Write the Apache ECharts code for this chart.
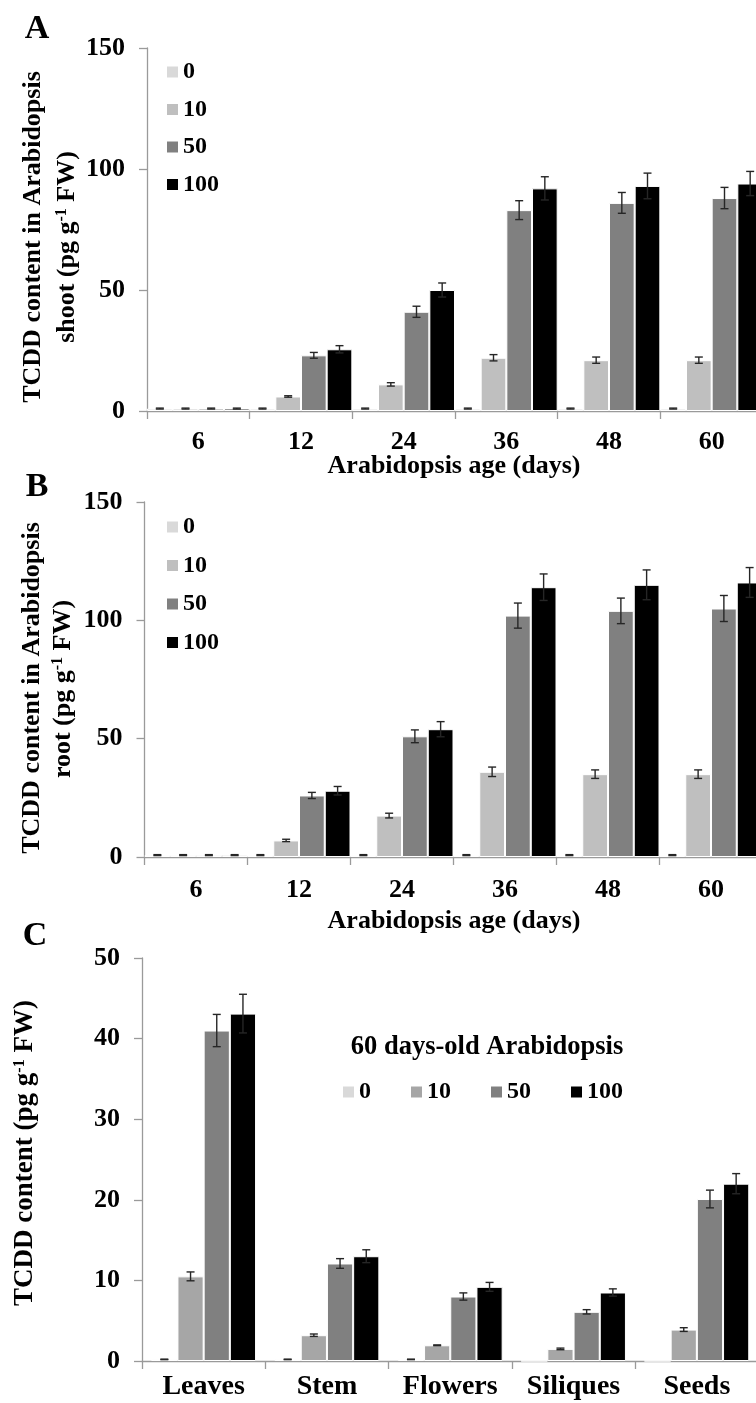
<!DOCTYPE html>
<html><head><meta charset="utf-8">
<script src="https://cdn.jsdelivr.net/npm/echarts@6/dist/echarts.min.js"></script>
<style>html,body{margin:0;padding:0;background:#fff}#c{width:756px;height:1403px}</style>
</head><body><div id="c"></div>
<script>
// ---------- data ----------
const ages = ['6', '12', '24', '36', '48', '60'];
const organs = ['Leaves', 'Stem', 'Flowers', 'Siliques', 'Seeds'];
const doses = ['0', '10', '50', '100'];

// Panel A: shoot (pg g-1 FW)
const shoot0   = [1, 1, 1, 1, 1, 1];
const shoot10  = [1, 6, 11, 22, 21, 21];
const shoot50  = [1, 23, 41, 83, 86, 88];
const shoot100 = [1, 25.5, 50, 92, 93, 94];
const shootErr0   = [0.2, 0.2, 0.2, 0.2, 0.2, 0.2];
const shootErr10  = [0.2, 0.3, 0.7, 1.3, 1.3, 1.3];
const shootErr50  = [0.2, 1.2, 2.3, 3.9, 4.3, 4.4];
const shootErr100 = [0.2, 1.5, 2.9, 4.8, 5.3, 5.0];

// Panel B: root (pg g-1 FW)
const root0   = [0.8, 0.8, 0.8, 0.8, 0.8, 0.8];
const root10  = [0.8, 7, 17.5, 36, 35, 35];
const root50  = [0.8, 26, 51, 102, 104, 105];
const root100 = [0.8, 28, 54, 114, 115, 116];
const rootErr0   = [0.2, 0.2, 0.2, 0.2, 0.2, 0.2];
const rootErr10  = [0.2, 0.5, 1.0, 2.0, 1.8, 1.8];
const rootErr50  = [0.2, 1.3, 2.7, 5.3, 5.4, 5.5];
const rootErr100 = [0.2, 1.8, 3.2, 5.6, 6.3, 6.3];

// Panel C: organs of 60 days-old plants
const organ0   = [0.2, 0.2, 0.2, 0, 0];
const organ10  = [10.5, 3.2, 1.95, 1.5, 3.9];
const organ50  = [41, 12.1, 8.0, 6.1, 20.1];
const organ100 = [43.1, 13.0, 9.2, 8.5, 22.0];
const organErr0   = [0.03, 0.03, 0.03, 0, 0];
const organErr10  = [0.55, 0.15, 0.05, 0.1, 0.23];
const organErr50  = [2.0, 0.6, 0.45, 0.27, 1.1];
const organErr100 = [2.4, 0.8, 0.55, 0.45, 1.25];

const yTicksAB = [0, 50, 100, 150];
const yTicksC = [0, 10, 20, 30, 40, 50];

// ---------- styling ----------
const FONT = '"Liberation Serif", "Times New Roman", serif';
const colorsAB = ['#d9d9d9', '#bfbfbf', '#808080', '#000000'];
const colorsC  = ['#d9d9d9', '#a6a6a6', '#808080', '#000000'];
const axisGray = '#9a9a9a';

const chart = echarts.init(document.getElementById('c'), null, {renderer: 'canvas'});

function makeGroup(gi, vals, errs, cols, gapFrac) {
  const out = [];
  vals.forEach((arr, k) => {
    out.push({
      type: 'bar', name: doses[k], xAxisIndex: gi, yAxisIndex: gi,
      data: arr, barGap: '0%', barCategoryGap: (gapFrac * 100) + '%',
      itemStyle: {color: cols[k], borderColor: '#ffffff', borderWidth: 1},
      emphasis: {disabled: true}, z: 2
    });
  });
  vals.forEach((arr, k) => {
    out.push({
      type: 'custom', name: 'err' + gi + '_' + k, xAxisIndex: gi, yAxisIndex: gi, z: 5,
      data: arr.map((v, i) => [i, v, errs[k][i]]),
      renderItem: function (params, api) {
        const c = api.value(0), v = api.value(1), e = api.value(2);
        if (!(v > 0) || !(e > 0)) return null;
        const band = api.size([1, 0])[0];
        const inner = band * (1 - gapFrac);
        const bw = inner / 4;
        const cx = api.coord([c, v])[0] - inner / 2 + (k + 0.5) * bw;
        const yt = api.coord([c, v + e])[1];
        const yb = api.coord([c, Math.max(0, v - e)])[1];
        const hw = 4;
        const st = {stroke: '#262626', lineWidth: 1.4};
        return {type: 'group', children: [
          {type: 'line', shape: {x1: cx, y1: yt, x2: cx, y2: yb}, style: st},
          {type: 'line', shape: {x1: cx - hw, y1: yt, x2: cx + hw, y2: yt}, style: st},
          {type: 'line', shape: {x1: cx - hw, y1: yb, x2: cx + hw, y2: yb}, style: st}
        ]};
      }
    });
  });
  return out;
}

function xAxisCfg(gi, cats, fs, margin) {
  return {
    type: 'category', gridIndex: gi, data: cats,
    axisLine: {lineStyle: {color: axisGray, width: 1.3}},
    axisTick: {show: true, length: 8, lineStyle: {color: axisGray, width: 1.3}},
    axisLabel: {fontFamily: FONT, fontWeight: 'bold', fontSize: fs, color: '#000', margin: margin, interval: 0},
    splitLine: {show: false}
  };
}
function yAxisCfg(gi, ticks) {
  return {
    type: 'value', gridIndex: gi, min: ticks[0], max: ticks[ticks.length - 1],
    interval: ticks[1] - ticks[0],
    axisLine: {show: true, lineStyle: {color: axisGray, width: 1.3}},
    axisTick: {show: true, length: 8, lineStyle: {color: axisGray, width: 1.3}},
    axisLabel: {fontFamily: FONT, fontWeight: 'bold', fontSize: 26, color: '#000', margin: 22},
    splitLine: {show: false}
  };
}
function legendCfg(cols, pos) {
  return Object.assign({
    padding: 0, itemWidth: 11, itemHeight: 11, icon: 'rect', selectedMode: false,
    textStyle: {fontFamily: FONT, fontWeight: 'bold', fontSize: 24, lineHeight: 24, color: '#000'},
    data: doses.map((d, i) => ({name: d, itemStyle: {color: cols[i], borderWidth: 0}}))
  }, pos);
}
function txt(text, x, y, fs, rot, rich) {
  const o = {type: 'text', x: x, y: y, rotation: rot || 0, z: 10,
    style: {text: text, fontFamily: FONT, fontWeight: 'bold', fontSize: fs, fill: '#000',
            align: 'center', verticalAlign: 'middle'}};
  if (rich) o.style.rich = rich;
  return o;
}
const supRich = (fs) => ({
  a: {fontFamily: FONT, fontWeight: 'bold', fontSize: fs, lineHeight: fs, fill: '#000'},
  s: {fontFamily: FONT, fontWeight: 'bold', fontSize: Math.round(fs * 0.6), fill: '#000', verticalAlign: 'top'}
});

const series = [].concat(
  makeGroup(0, [shoot0, shoot10, shoot50, shoot100], [shootErr0, shootErr10, shootErr50, shootErr100], colorsAB, 0),
  makeGroup(1, [root0, root10, root50, root100], [rootErr0, rootErr10, rootErr50, rootErr100], colorsAB, 0),
  makeGroup(2, [organ0, organ10, organ50, organ100], [organErr0, organErr10, organErr50, organErr100], colorsC, 0.15)
);

const R = Math.PI / 2;
chart.setOption({
  animation: false,
  backgroundColor: '#ffffff',
  grid: [
    {left: 147, top: 48, width: 616, height: 363, outerBoundsMode: 'none', containLabel: false},
    {left: 144.5, top: 502, width: 618, height: 355, outerBoundsMode: 'none', containLabel: false},
    {left: 142, top: 958, width: 616.5, height: 403, outerBoundsMode: 'none', containLabel: false}
  ],
  xAxis: [xAxisCfg(0, ages, 26, 18), xAxisCfg(1, ages, 26, 20), xAxisCfg(2, organs, 28, 12)],
  yAxis: [yAxisCfg(0, yTicksAB), yAxisCfg(1, yTicksAB), yAxisCfg(2, yTicksC)],
  legend: [
    legendCfg(colorsAB, {orient: 'vertical', left: 167, top: 60, itemGap: 13.5}),
    legendCfg(colorsAB, {orient: 'vertical', left: 167, top: 515, itemGap: 14.5}),
    legendCfg(colorsC, {orient: 'horizontal', left: 343, top: 1080, itemGap: 40})
  ],
  graphic: [
    txt('A', 37, 29, 34),
    txt('B', 37, 487, 34),
    txt('C', 35, 936, 34),
    txt('TCDD content in Arabidopsis', 33, 237, 26, R),
    txt('{a|shoot (pg g}{s|-1}{a| FW)}', 67, 247, 26, R, supRich(26)),
    txt('Arabidopsis age (days)', 454, 466, 26),
    txt('TCDD content in Arabidopsis', 32, 688, 26, R),
    txt('{a|root (pg g}{s|-1}{a| FW)}', 63, 689, 26, R, supRich(26)),
    txt('Arabidopsis age (days)', 454, 921, 26),
    txt('{a|TCDD content (pg g}{s|-1}{a| FW)}', 25, 1153, 27, R, supRich(27)),
    txt('60 days-old Arabidopsis', 487, 1047, 26.5)
  ],
  series: series
});
</script>
</body></html>
